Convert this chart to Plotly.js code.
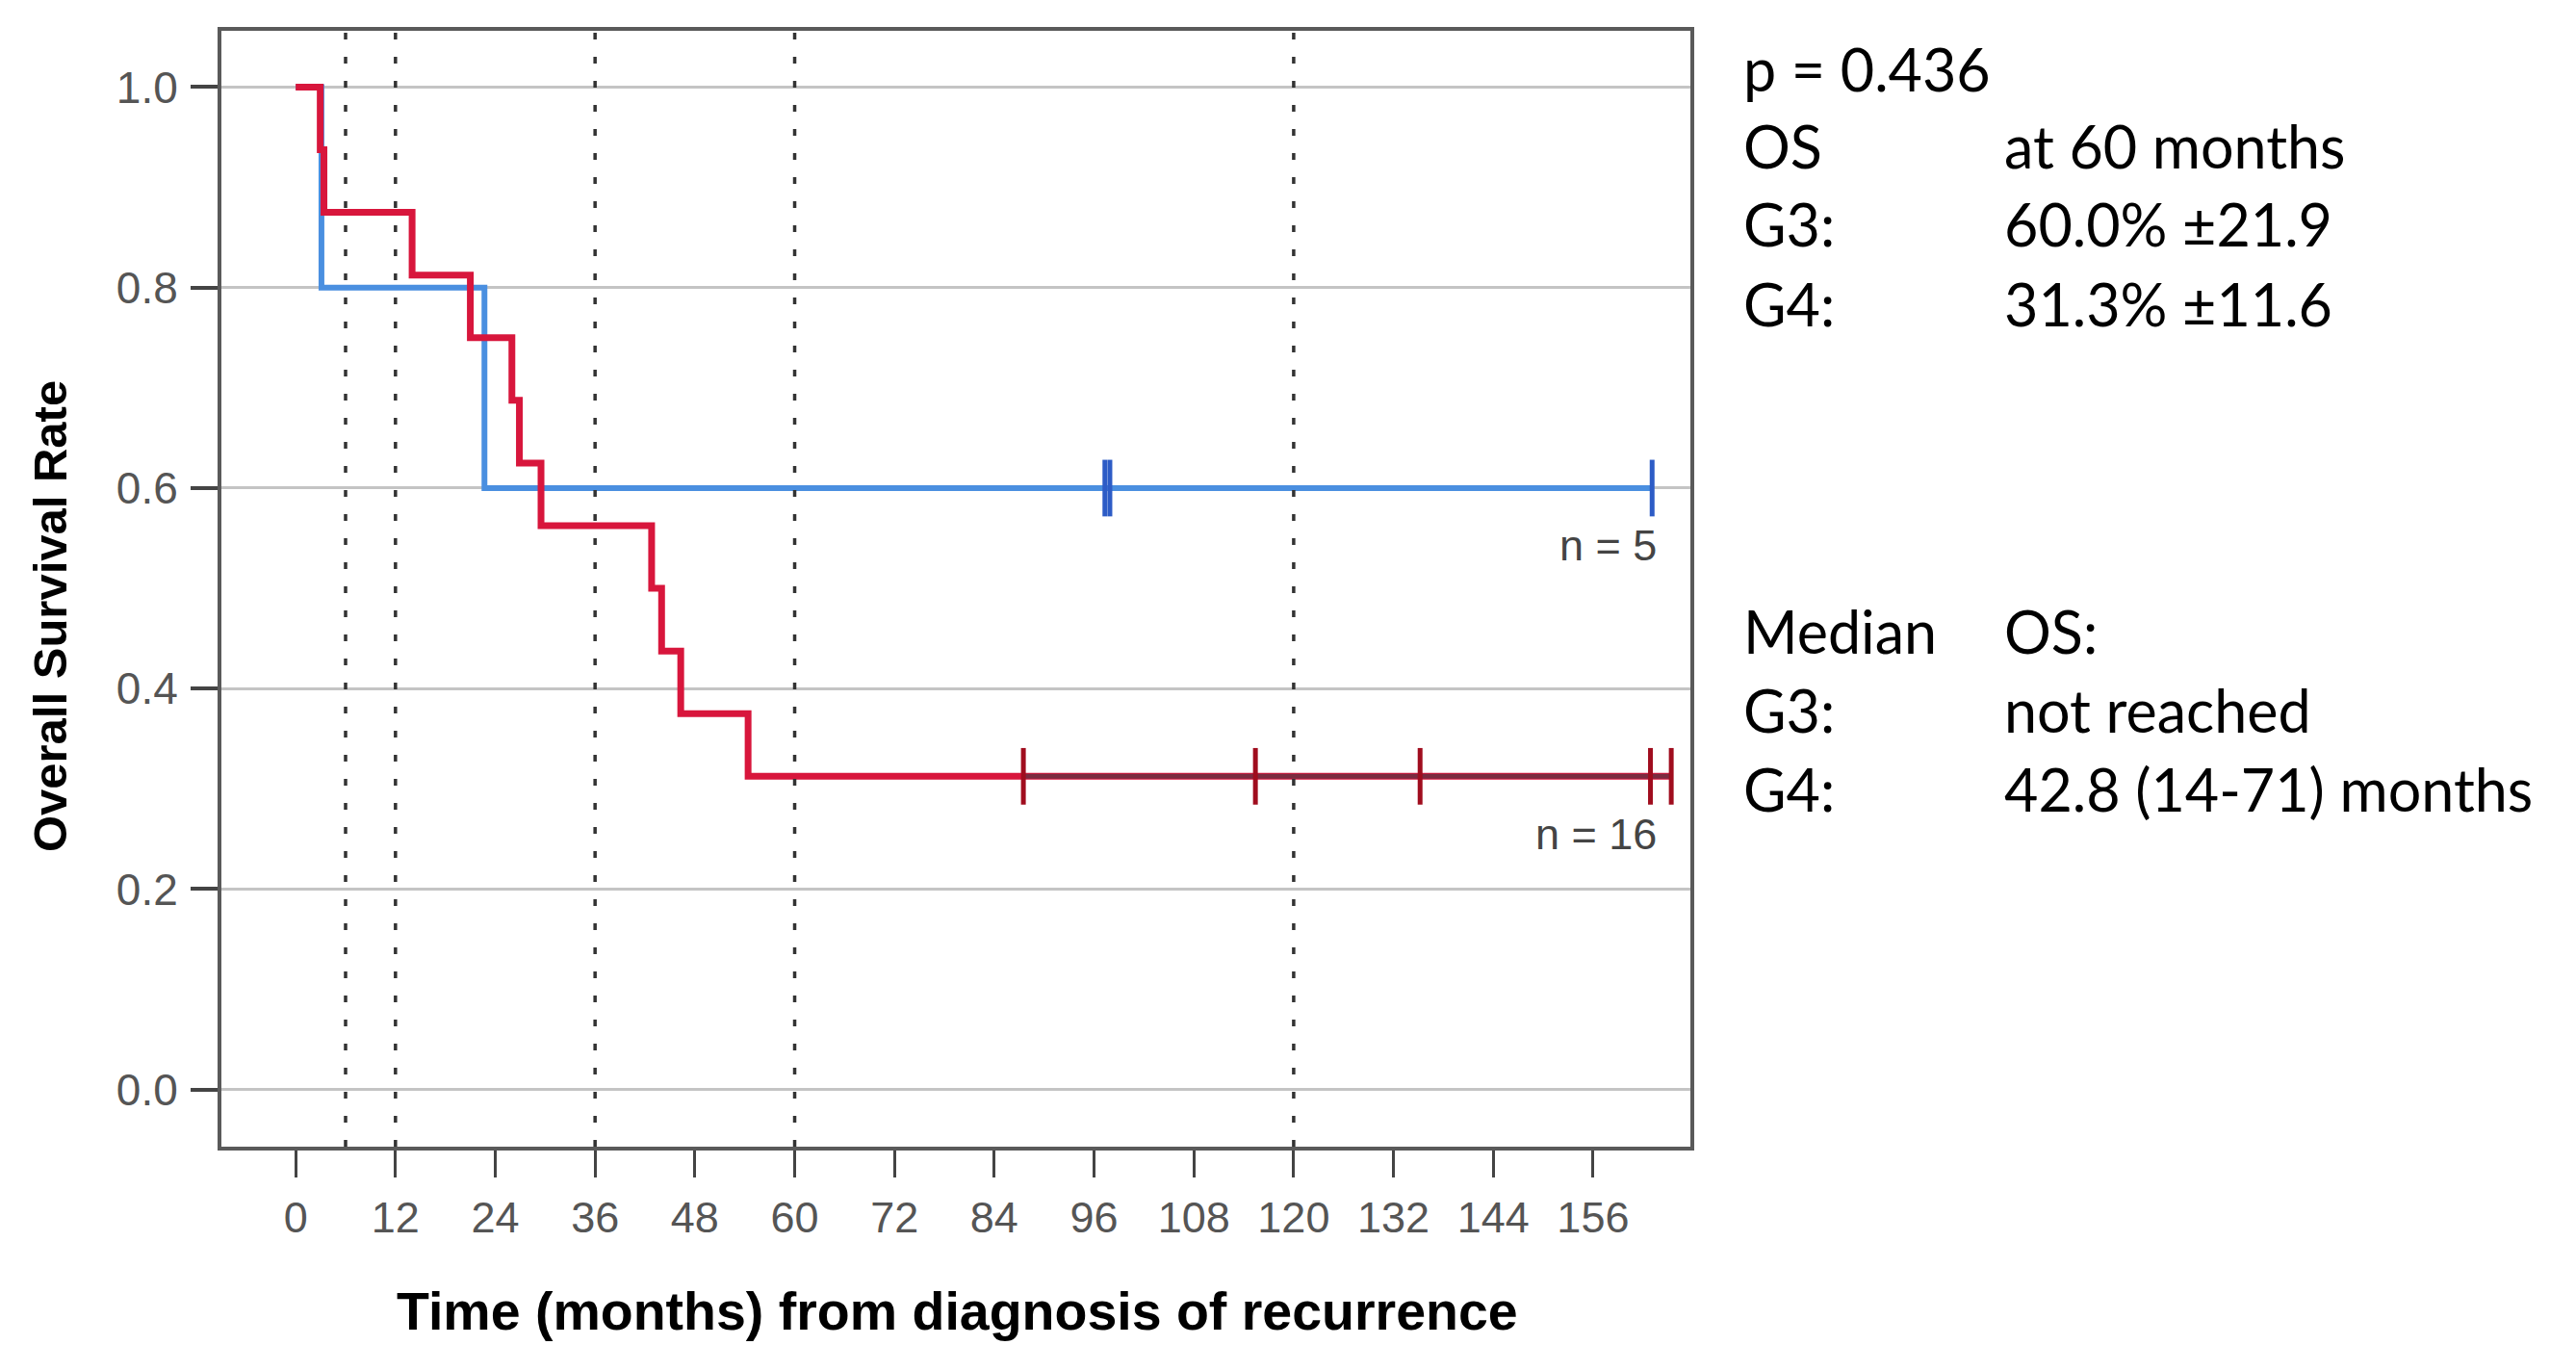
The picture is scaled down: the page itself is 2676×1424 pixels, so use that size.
<!DOCTYPE html>
<html>
<head>
<meta charset="utf-8">
<script src="https://cdn.plot.ly/plotly-3.0.1.min.js"></script>
<style>html,body{margin:0;padding:0;background:#fff;}#chart{width:2676px;height:1424px;}</style>
</head>
<body>
<div id="chart"></div>
<script>
// ---- data ----
const xTickVals = [0, 12, 24, 36, 48, 60, 72, 84, 96, 108, 120, 132, 144, 156];
const yTickVals = [0.0, 0.2, 0.4, 0.6, 0.8, 1.0];
const refLines = [6, 12, 36, 60, 120];

// G3 (n = 5)
const g3Times = [0, 3.1, 22.7, 163.1];
const g3Surv  = [1.0, 0.8, 0.6, 0.6];
const g3CensorTimes = [97.3, 97.9, 163.1];
const g3CensorSurv  = [0.6, 0.6, 0.6];

// G4 (n = 16)
const g4Times = [0, 2.95, 3.4, 14.0, 21.0, 26.0, 26.9, 29.5, 42.8, 44.0, 46.3, 54.4, 165.4];
const g4Surv  = [1.0, 0.9375, 0.875, 0.8125, 0.75, 0.6875, 0.625, 0.5625, 0.5, 0.4375, 0.375, 0.3125, 0.3125];
const g4CensorTimes = [87.5, 115.4, 135.2, 162.9, 165.4];
const g4CensorSurv  = [0.3125, 0.3125, 0.3125, 0.3125, 0.3125];

const nLabels = ["n = 5", "n = 16"];
const statsCol1 = ["p = 0.436", "OS", "G3:", "G4:", "Median", "G3:", "G4:"];
const statsCol2 = ["", "at 60 months", "60.0% ±21.9", "31.3% ±11.6", "OS:", "not reached", "42.8 (14-71) months"];

// ---- styling ----
const tickFam = "Liberation Sans, Arial, sans-serif";
const bold = "Liberation Sans, Arial, sans-serif";
const statFont = "Lato, Open Sans, sans-serif";

const traces = [
  {x: g3Times, y: g3Surv, mode: "lines", line: {shape: "hv", color: "#4a8fe0", width: 6}, hoverinfo: "skip"},
  {x: g3CensorTimes, y: g3CensorSurv, mode: "markers",
   marker: {symbol: "line-ns", size: 42, line: {color: "#2d5cc6", width: 5}}, hoverinfo: "skip"},
  {x: g4Times, y: g4Surv, mode: "lines", line: {shape: "hv", color: "#d8163c", width: 7}, hoverinfo: "skip"},
  {x: [g4CensorTimes[0], g4CensorTimes[g4CensorTimes.length - 1]],
   y: [g4CensorSurv[0], g4CensorSurv[g4CensorSurv.length - 1]],
   mode: "lines", line: {color: "#7a2c40", width: 5}, hoverinfo: "skip"},
  {x: g4CensorTimes, y: g4CensorSurv, mode: "markers",
   marker: {symbol: "line-ns", size: 42, line: {color: "#a00d1e", width: 5}}, hoverinfo: "skip"}
];

const shapes = refLines.map(t => ({
  type: "line", xref: "x", yref: "paper", x0: t, x1: t, y0: 0, y1: 1,
  line: {color: "#333", width: 3.5, dash: "7px,18px"}, layer: "above"
}));

const annotations = [];
// axis titles
annotations.push({xref: "paper", yref: "paper", x: 0.5009, y: -0.1475, xanchor: "center", yanchor: "middle",
  text: "<b>Time (months) from diagnosis of recurrence</b>", showarrow: false,
  font: {family: bold, size: 55.5, color: "#000"}});
annotations.push({xref: "paper", yref: "paper", x: -0.1166, y: 0.4754, xanchor: "center", yanchor: "middle",
  text: "<b>Overall Survival Rate</b>", textangle: -90, showarrow: false,
  font: {family: bold, size: 49, color: "#000"}});
// n labels
const nY = [0.5431, 0.2549];
nLabels.forEach((t, i) => annotations.push({xref: "x", yref: "y", x: 163.9, y: nY[i], xanchor: "right", yanchor: "middle",
  text: t, showarrow: false, font: {family: tickFam, size: 45, color: "#444"}}));
// stats text
const statY = [0.9657, 0.8965, 0.8273, 0.7552, 0.4622, 0.3916, 0.3208];
statsCol1.forEach((t, i) => annotations.push({xref: "paper", yref: "paper", x: 1.0347, y: statY[i], xanchor: "left", yanchor: "middle",
  text: t, showarrow: false, font: {family: statFont, size: 61, color: "#000"}}));
statsCol2.forEach((t, i) => { if (t) annotations.push({xref: "paper", yref: "paper", x: 1.2123, y: statY[i], xanchor: "left", yanchor: "middle",
  text: t, showarrow: false, font: {family: statFont, size: 61, color: "#000"}}); });

const layout = {
  width: 2676, height: 1424,
  margin: {l: 230, r: 920, t: 32, b: 233},
  paper_bgcolor: "#fff", plot_bgcolor: "#fff",
  showlegend: false,
  xaxis: {
    range: [-8.93, 167.7], tickvals: xTickVals, ticktext: xTickVals.map(String),
    showgrid: false, zeroline: false, showline: true, mirror: true, linecolor: "#5a5a5a", linewidth: 4,
    ticks: "outside", ticklen: 28, tickwidth: 3, tickcolor: "#444",
    tickfont: {family: tickFam, size: 45, color: "#555"}, ticklabelstandoff: 3
  },
  yaxis: {
    range: [-0.0569, 1.0561], tickvals: yTickVals, ticktext: yTickVals.map(v => v.toFixed(1)),
    showgrid: true, gridcolor: "#c4c4c4", gridwidth: 3, zeroline: false,
    showline: true, mirror: true, linecolor: "#5a5a5a", linewidth: 4,
    ticks: "outside", ticklen: 28, tickwidth: 4, tickcolor: "#444",
    tickfont: {family: tickFam, size: 46, color: "#555"}, ticklabelstandoff: 4
  },
  shapes: shapes,
  annotations: annotations
};

Plotly.newPlot("chart", traces, layout, {displayModeBar: false, staticPlot: true});
</script>
</body>
</html>
